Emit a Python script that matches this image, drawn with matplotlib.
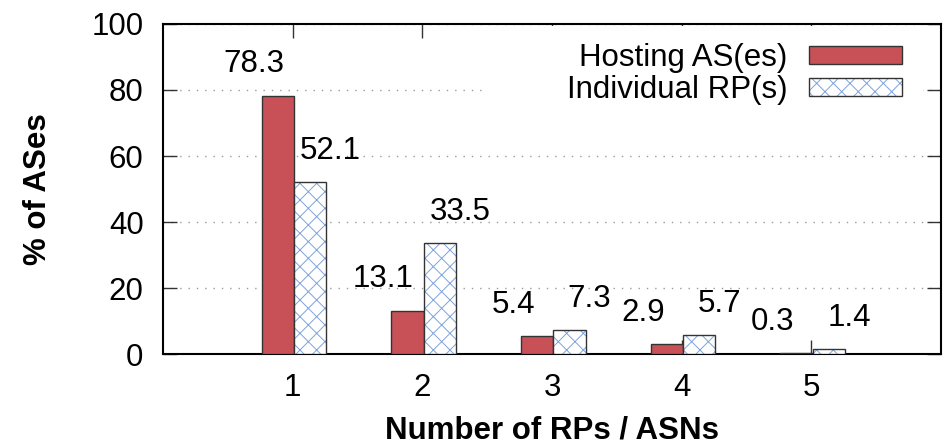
import matplotlib
matplotlib.use("Agg")
import matplotlib.pyplot as plt
import numpy as np
from matplotlib.patches import Patch, Rectangle
from matplotlib.legend_handler import HandlerTuple

plt.rcParams['font.family'] = ['Liberation Sans', 'DejaVu Sans']
plt.rcParams['hatch.linewidth'] = 0.7

categories = [1, 2, 3, 4, 5]
hosting = [78.3, 13.1, 5.4, 2.9, 0.3]
individual = [52.1, 33.5, 7.3, 5.7, 1.4]
series_names = ["Hosting AS(es)", "Individual RP(s)"]
y_ticks = [0, 20, 40, 60, 80, 100]

RED = "#c75157"
HATCH = "#7fa3dc"
EDGE = "#333333"
FS = 22.5

fig = plt.figure(figsize=(9.46, 4.48), dpi=100)
ax = fig.add_axes([163/946, 94/448, 778/946, 330/448])

x = np.array(categories, dtype=float)
w = 0.25
xr = x - 0.115
xb = x + 0.135

ax.bar(xr, hosting, width=w, color=RED, edgecolor=EDGE, linewidth=1.0, zorder=3)
ax.bar(xb, individual, width=w, color="white", edgecolor=HATCH, hatch="xx",
       linewidth=0, zorder=3)
ax.bar(xb, individual, width=w, facecolor="none", edgecolor=EDGE, linewidth=1.0, zorder=4)

for xi, v in zip(xr, hosting):
    ax.text(xi - 0.185, v + 9.5, f"{v}", ha="center", va="center", fontsize=FS, zorder=5)
for xi, v in zip(xb, individual):
    ax.text(xi + 0.155, v + 9.5, f"{v}", ha="center", va="center", fontsize=FS, zorder=5)

ax.set_xlim(0, 6)
ax.set_ylim(0, 100)
ax.set_xticks(categories)
ax.set_yticks(y_ticks)
ax.tick_params(axis="both", which="both", direction="in", length=10, width=1,
               top=True, right=True, labelsize=FS, pad=14, color="#333333")

for s in ax.spines.values():
    s.set_linewidth(1.5)

ax.yaxis.grid(True, linestyle=(0, (1, 5)), color="#999999", linewidth=1.0, zorder=1)
ax.set_axisbelow(True)

# white area behind legend hiding the grid
ax.add_patch(Rectangle((0.411, 0.76), 0.566, 0.235, transform=ax.transAxes,
                       facecolor="white", edgecolor="none", zorder=2))

ax.set_ylabel("% of ASes", fontsize=FS, fontweight="bold", labelpad=28)
ax.set_xlabel("Number of RPs / ASNs", fontsize=FS, fontweight="bold", labelpad=9)

h1 = Patch(facecolor=RED, edgecolor=EDGE, linewidth=1.0)
h2a = Patch(facecolor="white", edgecolor=HATCH, hatch="xx", linewidth=0)
h2b = Patch(facecolor="none", edgecolor=EDGE, linewidth=1.0)
leg = ax.legend([h1, (h2a, h2b)], series_names,
                handler_map={tuple: HandlerTuple(ndivide=1, pad=0)},
                loc="upper right", bbox_to_anchor=(0.970, 0.99),
                frameon=False, markerfirst=False, fontsize=FS,
                handlelength=2.97, handleheight=0.51, handletextpad=0.7,
                labelspacing=0.08, borderaxespad=0.2, borderpad=0.3)
leg.set_zorder(6)

fig.savefig("out.png", dpi=100)
